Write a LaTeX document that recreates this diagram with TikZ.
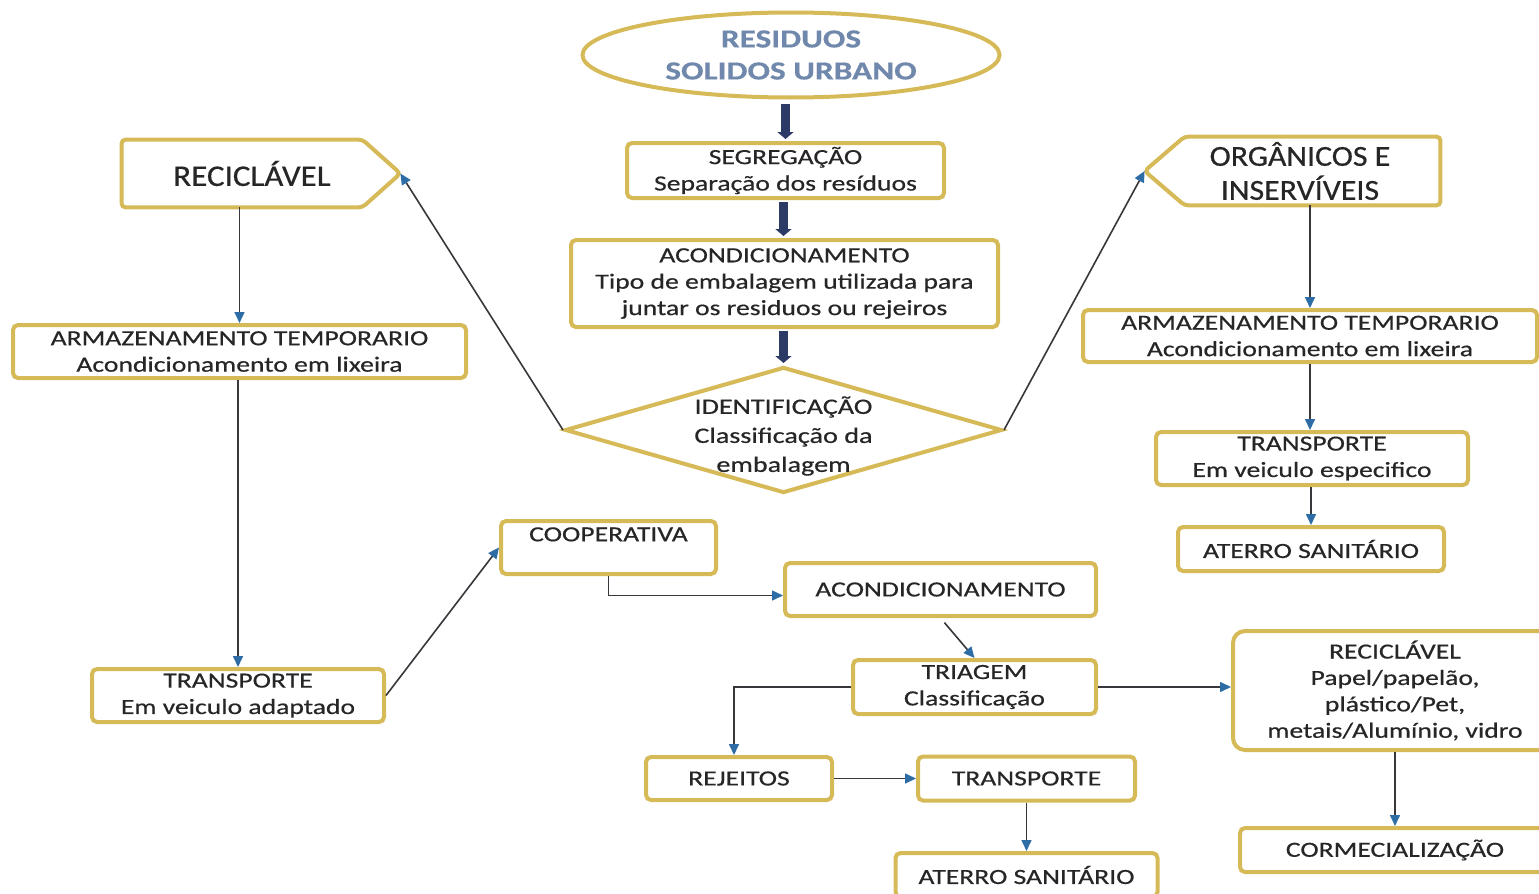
\documentclass[tikz,border=0pt]{standalone}
\usepackage{fontspec}
\setmainfont{Carlito}[FakeStretch=1.28,FakeBold=0.5]
\newfontfamily\bigfont{Carlito}[FakeStretch=1.1,FakeBold=0.5]
\usetikzlibrary{arrows.meta,shapes.geometric,calc}
\definecolor{gold}{RGB}{214,186,88}
\definecolor{txt}{RGB}{38,38,38}
\definecolor{lineC}{RGB}{55,55,60}
\definecolor{arrowB}{RGB}{46,108,165}
\definecolor{navy}{RGB}{44,58,102}
\definecolor{titleC}{RGB}{112,136,172}
\begin{document}
\begin{tikzpicture}[x=0.5pt,y=-0.5pt,
  wh/.style 2 args={minimum width=#1*0.5pt, minimum height=#2*0.5pt},
  box/.style={draw=gold, line width=2pt, fill=white, rounded corners=2.5pt, inner sep=0pt,
    align=center, text=txt, font=\fontsize{10.8}{13.2}\selectfont},
  plain/.style={inner sep=0pt, align=center, text=txt, font=\fontsize{10.8}{13.2}\selectfont},
  shapeline/.style={draw=gold, line width=2pt, rounded corners=2pt},
  conn/.style={draw=lineC, line width=0.8pt, -{Triangle[length=5.5pt,width=5pt,color=arrowB]}},
  bigarr/.style={draw=navy, line width=4.5pt, -{Triangle[length=3.5pt,width=8pt]}},
]
\useasboundingbox (0,0) rectangle (1539,894);
\fill[white] (0,0) rectangle (1539,894);

% top ellipse
\node[ellipse, draw=gold, line width=2pt, inner sep=0pt, wh={417}{85}] (ell) at (791,55) {};
\node[plain, text=titleC, font=\fontsize{13}{16}\selectfont\bfseries] (elltext) at (ell.center) {RESIDUOS\\SOLIDOS URBANO};

% central column
\node[box, wh={317}{55}] (seg) at (785.5,170.5) {SEGREGAÇÃO\\Separação dos resíduos};
\node[box, wh={427}{87}] (acond1) at (784.5,283.5) {ACONDICIONAMENTO\\Tipo de embalagem utilizada para\\juntar os residuos ou rejeiros};
\node[diamond, draw=gold, line width=2pt, inner sep=0pt, wh={437}{126}] (dia) at (783.5,430) {};
\node[plain, font=\fontsize{11}{14.5}\selectfont] (diatext) at ([yshift=-3pt]dia.center) {IDENTIFICAÇÃO\\Classificação da\\embalagem};

% left pentagon
\node[plain, wh={260}{67}, font=\bigfont\fontsize{15}{18}\selectfont] (recL) at (252,173.5) {RECICLÁVEL};
\draw[shapeline] (recL.north west) -- ([xshift=-10pt]recL.north east) -- ([xshift=9pt]recL.east)
  -- ([xshift=-10pt]recL.south east) -- (recL.south west) -- cycle;
\coordinate (rtip) at ([xshift=9pt]recL.east);

% right pentagon
\node[plain, wh={280}{68}, font=\bigfont\fontsize{14.5}{17}\selectfont] (orgR) at (1300,171) {ORGÂNICOS E\\INSERVÍVEIS};
\draw[shapeline] ([xshift=12.5pt]orgR.north west) -- (orgR.north east) -- (orgR.south east)
  -- ([xshift=12.5pt]orgR.south west) -- ([xshift=-7.5pt]orgR.west) -- cycle;
\coordinate (otip) at ([xshift=-7.5pt]orgR.west);

% left column
\node[box, wh={453}{53}] (armL) at (239.5,351.5) {ARMAZENAMENTO TEMPORARIO\\Acondicionamento em lixeira};
\node[box, wh={292}{53}] (transL) at (238,695.5) {TRANSPORTE\\Em veiculo adaptado};

% right column
\node[box, wh={454}{52}] (armR) at (1310,336) {ARMAZENAMENTO TEMPORARIO\\Acondicionamento em lixeira};
\node[box, wh={312}{53}] (transR) at (1312,458.5) {TRANSPORTE\\Em veiculo especifico};
\node[box, wh={266}{44}] (aterR) at (1311,549) {ATERRO SANITÁRIO};

% bottom part
\node[box, wh={215}{53}] (coop) at (608.5,547.5) {COOPERATIVA\\\mbox{}};
\node[box, wh={311}{53}] (acond2) at (940.5,589.5) {ACONDICIONAMENTO};
\node[box, wh={243}{54}] (triag) at (974.5,687) {TRIAGEM\\Classificação};
\node[box, rounded corners=6pt, wh={324}{119}] (recR) at (1395,690.5) {RECICLÁVEL\\Papel/papelão,\\plástico/Pet,\\metais/Alumínio, vidro};
\node[box, wh={310}{44}] (corm) at (1395,850) {CORMECIALIZAÇÃO};
\node[box, wh={186}{43}] (rej) at (739,778.5) {REJEITOS};
\node[box, wh={217}{44}] (transB) at (1026.5,778.5) {TRANSPORTE};
\node[box, wh={262}{44}] (aterB) at (1026.5,875) {ATERRO SANITÁRIO};

% thick arrows
\draw[bigarr, shorten <=2pt, shorten >=1pt] (ell.south -| seg.north) -- (seg.north);
\draw[bigarr, shorten <=1pt, shorten >=1pt] (seg.south -| dia.north) -- (acond1.north -| dia.north);
\draw[bigarr, shorten <=1pt, shorten >=1pt] (acond1.south -| dia.north) -- (dia.north);

% connectors
\draw[conn] (dia.west) -- (rtip);
\draw[conn] (dia.east) -- (otip);
\draw[conn] (recL.south -| armL.north) -- (armL.north);
\draw[conn] (armL.south -| transL.north) -- (transL.north);
\draw[conn] (transL.east) -- (coop.west);
\draw[conn] (coop.south) |- ([yshift=-3pt]acond2.west);
\draw[conn, shorten <=3pt] (acond2.south) -- (triag.north);
\draw[conn] (triag.west) -| ([xshift=-2.5pt]rej.north);
\draw[conn] (triag.east) -- (recR.west |- triag.east);
\draw[conn] (recR.south) -- (corm.north);
\draw[conn] (rej.east) -- (transB.west);
\draw[conn] (transB.south) -- (aterB.north);
\draw[conn] (orgR.south -| armR.north) -- (armR.north);
\draw[conn] (armR.south -| armR.south) -- (armR.south |- transR.north);
\draw[conn] (transR.south -| aterR.north) -- (aterR.north);
\end{tikzpicture}
\end{document}
